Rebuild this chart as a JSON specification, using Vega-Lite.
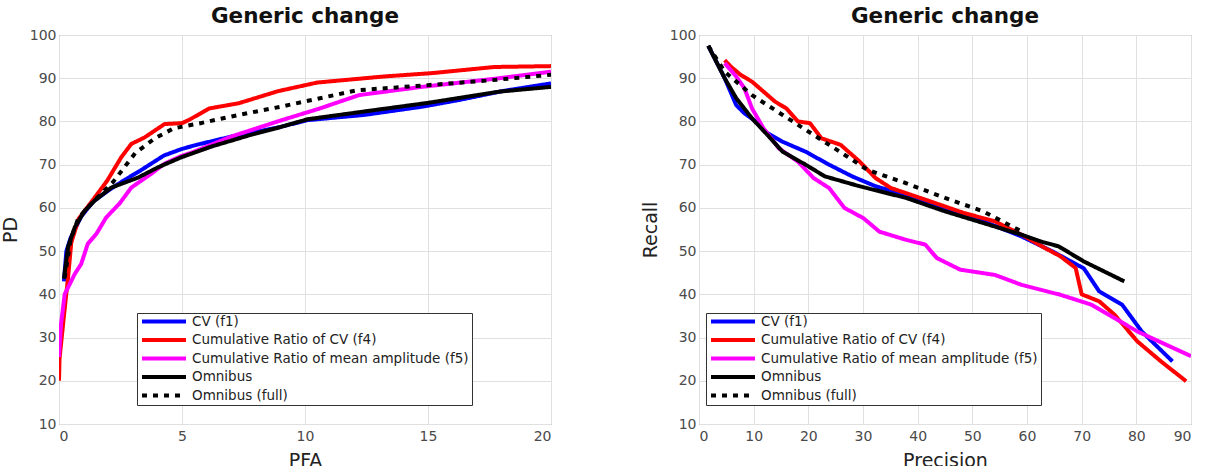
{
  "$schema": "https://vega.github.io/schema/vega-lite/v6.json",
  "background": "white",
  "padding": {"left": 0, "top": 5, "right": 0, "bottom": 5},
  "config": {
    "font": "DejaVu Sans",
    "view": {"stroke": "#7a7a7a", "strokeWidth": 1},
    "axis": {
      "grid": true,
      "gridColor": "#e0e0e0",
      "gridWidth": 1,
      "domain": false,
      "ticks": false,
      "labelFont": "DejaVu Sans",
      "labelFontSize": 14,
      "labelColor": "#4a4a4a",
      "labelPadding": 3,
      "titleFont": "DejaVu Sans",
      "titleFontSize": 19,
      "titleFontWeight": "normal",
      "titleColor": "#222222",
      "titlePadding": 9
    },
    "axisX": {"labelPadding": 5, "titlePadding": 8},
    "title": {"font": "DejaVu Sans", "fontSize": 21.5, "fontWeight": "bold", "color": "#111111", "offset": 1},
    "legend": {
      "orient": "none",
      "title": null,
      "symbolType": "stroke",
      "symbolSize": 1936,
      "symbolStrokeWidth": 4,
      "clipHeight": 11,
      "rowPadding": 4.5,
      "labelFont": "DejaVu Sans",
      "labelFontSize": 13.5,
      "labelColor": "#222222",
      "labelOffset": 4,
      "labelLimit": 400,
      "padding": 3,
      "strokeColor": "#333333",
      "fillColor": "white"
    },
    "concat": {"spacing": 88}
  },
  "resolve": {
    "scale": {"color": "independent", "strokeDash": "independent"},
    "legend": {"color": "independent", "strokeDash": "independent"}
  },
  "datasets": {
    "roc": [
      {"series": "CV (f1)", "pfa": 0.2, "pd": 43},
      {"series": "CV (f1)", "pfa": 0.3, "pd": 50},
      {"series": "CV (f1)", "pfa": 0.47, "pd": 53},
      {"series": "CV (f1)", "pfa": 0.9, "pd": 58},
      {"series": "CV (f1)", "pfa": 1.4, "pd": 61.5},
      {"series": "CV (f1)", "pfa": 2.0, "pd": 64},
      {"series": "CV (f1)", "pfa": 2.62, "pd": 66.3},
      {"series": "CV (f1)", "pfa": 3.3, "pd": 68.6},
      {"series": "CV (f1)", "pfa": 4.26, "pd": 72.1},
      {"series": "CV (f1)", "pfa": 4.97, "pd": 73.6},
      {"series": "CV (f1)", "pfa": 5.6, "pd": 74.6},
      {"series": "CV (f1)", "pfa": 7.0, "pd": 76.5},
      {"series": "CV (f1)", "pfa": 8.9, "pd": 78.6},
      {"series": "CV (f1)", "pfa": 10.1, "pd": 80.3},
      {"series": "CV (f1)", "pfa": 12.4, "pd": 81.5},
      {"series": "CV (f1)", "pfa": 14.75, "pd": 83.4},
      {"series": "CV (f1)", "pfa": 16.3, "pd": 85},
      {"series": "CV (f1)", "pfa": 18, "pd": 87},
      {"series": "CV (f1)", "pfa": 20, "pd": 88.8},

      {"series": "Cumulative Ratio of CV (f4)", "pfa": 0, "pd": 20},
      {"series": "Cumulative Ratio of CV (f4)", "pfa": 0.02, "pd": 25},
      {"series": "Cumulative Ratio of CV (f4)", "pfa": 0.2, "pd": 35},
      {"series": "Cumulative Ratio of CV (f4)", "pfa": 0.37, "pd": 44},
      {"series": "Cumulative Ratio of CV (f4)", "pfa": 0.5, "pd": 52},
      {"series": "Cumulative Ratio of CV (f4)", "pfa": 0.8, "pd": 57.5},
      {"series": "Cumulative Ratio of CV (f4)", "pfa": 1.4, "pd": 62},
      {"series": "Cumulative Ratio of CV (f4)", "pfa": 1.96, "pd": 66.3},
      {"series": "Cumulative Ratio of CV (f4)", "pfa": 2.53, "pd": 71.7},
      {"series": "Cumulative Ratio of CV (f4)", "pfa": 2.94, "pd": 74.8},
      {"series": "Cumulative Ratio of CV (f4)", "pfa": 3.48, "pd": 76.3},
      {"series": "Cumulative Ratio of CV (f4)", "pfa": 4.29, "pd": 79.4},
      {"series": "Cumulative Ratio of CV (f4)", "pfa": 5.0, "pd": 79.6},
      {"series": "Cumulative Ratio of CV (f4)", "pfa": 5.3, "pd": 80.4},
      {"series": "Cumulative Ratio of CV (f4)", "pfa": 6.1, "pd": 83},
      {"series": "Cumulative Ratio of CV (f4)", "pfa": 7.3, "pd": 84.2},
      {"series": "Cumulative Ratio of CV (f4)", "pfa": 8.9, "pd": 87},
      {"series": "Cumulative Ratio of CV (f4)", "pfa": 10.5, "pd": 89},
      {"series": "Cumulative Ratio of CV (f4)", "pfa": 13.2, "pd": 90.4},
      {"series": "Cumulative Ratio of CV (f4)", "pfa": 15.2, "pd": 91.2},
      {"series": "Cumulative Ratio of CV (f4)", "pfa": 17.7, "pd": 92.6},
      {"series": "Cumulative Ratio of CV (f4)", "pfa": 20, "pd": 92.8},

      {"series": "Cumulative Ratio of mean amplitude (f5)", "pfa": 0, "pd": 25.5},
      {"series": "Cumulative Ratio of mean amplitude (f5)", "pfa": 0.08, "pd": 33},
      {"series": "Cumulative Ratio of mean amplitude (f5)", "pfa": 0.23, "pd": 40},
      {"series": "Cumulative Ratio of mean amplitude (f5)", "pfa": 0.64, "pd": 44.7},
      {"series": "Cumulative Ratio of mean amplitude (f5)", "pfa": 0.9, "pd": 47},
      {"series": "Cumulative Ratio of mean amplitude (f5)", "pfa": 1.17, "pd": 51.7},
      {"series": "Cumulative Ratio of mean amplitude (f5)", "pfa": 1.52, "pd": 54},
      {"series": "Cumulative Ratio of mean amplitude (f5)", "pfa": 1.92, "pd": 57.8},
      {"series": "Cumulative Ratio of mean amplitude (f5)", "pfa": 2.46, "pd": 61},
      {"series": "Cumulative Ratio of mean amplitude (f5)", "pfa": 2.94, "pd": 64.7},
      {"series": "Cumulative Ratio of mean amplitude (f5)", "pfa": 3.75, "pd": 67.9},
      {"series": "Cumulative Ratio of mean amplitude (f5)", "pfa": 4.28, "pd": 70.2},
      {"series": "Cumulative Ratio of mean amplitude (f5)", "pfa": 4.97, "pd": 72},
      {"series": "Cumulative Ratio of mean amplitude (f5)", "pfa": 5.4, "pd": 72.8},
      {"series": "Cumulative Ratio of mean amplitude (f5)", "pfa": 7.0, "pd": 76.5},
      {"series": "Cumulative Ratio of mean amplitude (f5)", "pfa": 9.0, "pd": 80.2},
      {"series": "Cumulative Ratio of mean amplitude (f5)", "pfa": 10.6, "pd": 83},
      {"series": "Cumulative Ratio of mean amplitude (f5)", "pfa": 12.2, "pd": 86.1},
      {"series": "Cumulative Ratio of mean amplitude (f5)", "pfa": 14.75, "pd": 88},
      {"series": "Cumulative Ratio of mean amplitude (f5)", "pfa": 17.9, "pd": 90},
      {"series": "Cumulative Ratio of mean amplitude (f5)", "pfa": 20, "pd": 91.5},

      {"series": "Omnibus", "pfa": 0.2, "pd": 43.6},
      {"series": "Omnibus", "pfa": 0.37, "pd": 51},
      {"series": "Omnibus", "pfa": 0.64, "pd": 55.5},
      {"series": "Omnibus", "pfa": 1.04, "pd": 59.3},
      {"series": "Omnibus", "pfa": 1.45, "pd": 61.7},
      {"series": "Omnibus", "pfa": 2.13, "pd": 64.7},
      {"series": "Omnibus", "pfa": 3.21, "pd": 67},
      {"series": "Omnibus", "pfa": 4.03, "pd": 69.4},
      {"series": "Omnibus", "pfa": 4.97, "pd": 71.7},
      {"series": "Omnibus", "pfa": 6.2, "pd": 74.2},
      {"series": "Omnibus", "pfa": 7.8, "pd": 76.9},
      {"series": "Omnibus", "pfa": 9.0, "pd": 78.7},
      {"series": "Omnibus", "pfa": 10.1, "pd": 80.5},
      {"series": "Omnibus", "pfa": 12.4, "pd": 82.3},
      {"series": "Omnibus", "pfa": 15.0, "pd": 84.3},
      {"series": "Omnibus", "pfa": 17.9, "pd": 86.9},
      {"series": "Omnibus", "pfa": 20, "pd": 88},

      {"series": "Omnibus (full)", "pfa": 0.23, "pd": 43.8},
      {"series": "Omnibus (full)", "pfa": 0.47, "pd": 52.5},
      {"series": "Omnibus (full)", "pfa": 0.78, "pd": 57.6},
      {"series": "Omnibus (full)", "pfa": 1.4, "pd": 61.5},
      {"series": "Omnibus (full)", "pfa": 2.2, "pd": 66},
      {"series": "Omnibus (full)", "pfa": 3.1, "pd": 72.7},
      {"series": "Omnibus (full)", "pfa": 3.9, "pd": 76.1},
      {"series": "Omnibus (full)", "pfa": 4.66, "pd": 78.4},
      {"series": "Omnibus (full)", "pfa": 5.75, "pd": 79.6},
      {"series": "Omnibus (full)", "pfa": 7.3, "pd": 81.5},
      {"series": "Omnibus (full)", "pfa": 9.0, "pd": 83.4},
      {"series": "Omnibus (full)", "pfa": 12.1, "pd": 87.2},
      {"series": "Omnibus (full)", "pfa": 15.0, "pd": 88.4},
      {"series": "Omnibus (full)", "pfa": 17.5, "pd": 89.5},
      {"series": "Omnibus (full)", "pfa": 20, "pd": 90.8}
    ],
    "pr": [
      {"series": "CV (f1)", "precision": 1.7, "recall": 97.5},
      {"series": "CV (f1)", "precision": 4.7, "recall": 90},
      {"series": "CV (f1)", "precision": 6.8, "recall": 83.8},
      {"series": "CV (f1)", "precision": 8.3, "recall": 81.9},
      {"series": "CV (f1)", "precision": 10.4, "recall": 80},
      {"series": "CV (f1)", "precision": 12.5, "recall": 77.3},
      {"series": "CV (f1)", "precision": 15.3, "recall": 75.3},
      {"series": "CV (f1)", "precision": 19.5, "recall": 73},
      {"series": "CV (f1)", "precision": 23.8, "recall": 70},
      {"series": "CV (f1)", "precision": 28, "recall": 67.3},
      {"series": "CV (f1)", "precision": 32.3, "recall": 65},
      {"series": "CV (f1)", "precision": 37.9, "recall": 63},
      {"series": "CV (f1)", "precision": 45, "recall": 60},
      {"series": "CV (f1)", "precision": 52, "recall": 56.9},
      {"series": "CV (f1)", "precision": 59, "recall": 53.4},
      {"series": "CV (f1)", "precision": 64.7, "recall": 49.9},
      {"series": "CV (f1)", "precision": 70.4, "recall": 46},
      {"series": "CV (f1)", "precision": 73.2, "recall": 40.7},
      {"series": "CV (f1)", "precision": 77.4, "recall": 37.6},
      {"series": "CV (f1)", "precision": 81, "recall": 31.4},
      {"series": "CV (f1)", "precision": 86.6, "recall": 24.5},

      {"series": "Cumulative Ratio of CV (f4)", "precision": 4.7, "recall": 94.2},
      {"series": "Cumulative Ratio of CV (f4)", "precision": 5.8, "recall": 92.7},
      {"series": "Cumulative Ratio of CV (f4)", "precision": 7.6, "recall": 90.8},
      {"series": "Cumulative Ratio of CV (f4)", "precision": 9.7, "recall": 89.2},
      {"series": "Cumulative Ratio of CV (f4)", "precision": 11.8, "recall": 86.9},
      {"series": "Cumulative Ratio of CV (f4)", "precision": 13.9, "recall": 84.6},
      {"series": "Cumulative Ratio of CV (f4)", "precision": 16, "recall": 83},
      {"series": "Cumulative Ratio of CV (f4)", "precision": 18.1, "recall": 80},
      {"series": "Cumulative Ratio of CV (f4)", "precision": 20.3, "recall": 79.6},
      {"series": "Cumulative Ratio of CV (f4)", "precision": 22.4, "recall": 76.1},
      {"series": "Cumulative Ratio of CV (f4)", "precision": 25.9, "recall": 74.6},
      {"series": "Cumulative Ratio of CV (f4)", "precision": 29.4, "recall": 70.7},
      {"series": "Cumulative Ratio of CV (f4)", "precision": 32.3, "recall": 66.9},
      {"series": "Cumulative Ratio of CV (f4)", "precision": 35.1, "recall": 64.6},
      {"series": "Cumulative Ratio of CV (f4)", "precision": 41.4, "recall": 61.9},
      {"series": "Cumulative Ratio of CV (f4)", "precision": 48.5, "recall": 58.8},
      {"series": "Cumulative Ratio of CV (f4)", "precision": 54.1, "recall": 56.9},
      {"series": "Cumulative Ratio of CV (f4)", "precision": 59, "recall": 53.8},
      {"series": "Cumulative Ratio of CV (f4)", "precision": 63.3, "recall": 50.7},
      {"series": "Cumulative Ratio of CV (f4)", "precision": 66.1, "recall": 48.8},
      {"series": "Cumulative Ratio of CV (f4)", "precision": 68.9, "recall": 46.1},
      {"series": "Cumulative Ratio of CV (f4)", "precision": 70, "recall": 40},
      {"series": "Cumulative Ratio of CV (f4)", "precision": 73.2, "recall": 38.4},
      {"series": "Cumulative Ratio of CV (f4)", "precision": 76, "recall": 35.3},
      {"series": "Cumulative Ratio of CV (f4)", "precision": 80.2, "recall": 29.1},
      {"series": "Cumulative Ratio of CV (f4)", "precision": 84.5, "recall": 24.5},
      {"series": "Cumulative Ratio of CV (f4)", "precision": 89.1, "recall": 19.9},

      {"series": "Cumulative Ratio of mean amplitude (f5)", "precision": 4.7, "recall": 93.5},
      {"series": "Cumulative Ratio of mean amplitude (f5)", "precision": 6.8, "recall": 90.4},
      {"series": "Cumulative Ratio of mean amplitude (f5)", "precision": 8.3, "recall": 87.7},
      {"series": "Cumulative Ratio of mean amplitude (f5)", "precision": 9.7, "recall": 83},
      {"series": "Cumulative Ratio of mean amplitude (f5)", "precision": 11.8, "recall": 78.4},
      {"series": "Cumulative Ratio of mean amplitude (f5)", "precision": 14.6, "recall": 73.8},
      {"series": "Cumulative Ratio of mean amplitude (f5)", "precision": 18.1, "recall": 70.7},
      {"series": "Cumulative Ratio of mean amplitude (f5)", "precision": 20.96, "recall": 66.9},
      {"series": "Cumulative Ratio of mean amplitude (f5)", "precision": 23.8, "recall": 64.6},
      {"series": "Cumulative Ratio of mean amplitude (f5)", "precision": 26.6, "recall": 60},
      {"series": "Cumulative Ratio of mean amplitude (f5)", "precision": 30.1, "recall": 57.6},
      {"series": "Cumulative Ratio of mean amplitude (f5)", "precision": 33, "recall": 54.5},
      {"series": "Cumulative Ratio of mean amplitude (f5)", "precision": 37.9, "recall": 52.6},
      {"series": "Cumulative Ratio of mean amplitude (f5)", "precision": 41.4, "recall": 51.5},
      {"series": "Cumulative Ratio of mean amplitude (f5)", "precision": 43.5, "recall": 48.4},
      {"series": "Cumulative Ratio of mean amplitude (f5)", "precision": 47.8, "recall": 45.7},
      {"series": "Cumulative Ratio of mean amplitude (f5)", "precision": 54.1, "recall": 44.5},
      {"series": "Cumulative Ratio of mean amplitude (f5)", "precision": 59, "recall": 42.2},
      {"series": "Cumulative Ratio of mean amplitude (f5)", "precision": 66.1, "recall": 39.9},
      {"series": "Cumulative Ratio of mean amplitude (f5)", "precision": 71.8, "recall": 37.6},
      {"series": "Cumulative Ratio of mean amplitude (f5)", "precision": 80.2, "recall": 31.4},
      {"series": "Cumulative Ratio of mean amplitude (f5)", "precision": 90, "recall": 25.7},

      {"series": "Omnibus", "precision": 1.7, "recall": 97.5},
      {"series": "Omnibus", "precision": 4.7, "recall": 90},
      {"series": "Omnibus", "precision": 6.8, "recall": 85.4},
      {"series": "Omnibus", "precision": 9.7, "recall": 80.7},
      {"series": "Omnibus", "precision": 12.5, "recall": 76.9},
      {"series": "Omnibus", "precision": 15.3, "recall": 73},
      {"series": "Omnibus", "precision": 19.5, "recall": 70},
      {"series": "Omnibus", "precision": 23, "recall": 67.3},
      {"series": "Omnibus", "precision": 29.4, "recall": 65},
      {"series": "Omnibus", "precision": 37.9, "recall": 62.3},
      {"series": "Omnibus", "precision": 45, "recall": 59.2},
      {"series": "Omnibus", "precision": 52, "recall": 56.5},
      {"series": "Omnibus", "precision": 59, "recall": 53.8},
      {"series": "Omnibus", "precision": 62.6, "recall": 52.2},
      {"series": "Omnibus", "precision": 65.8, "recall": 51.1},
      {"series": "Omnibus", "precision": 70.4, "recall": 47.6},
      {"series": "Omnibus", "precision": 77.8, "recall": 43},

      {"series": "Omnibus (full)", "precision": 1.7, "recall": 97.5},
      {"series": "Omnibus (full)", "precision": 4.7, "recall": 91.5},
      {"series": "Omnibus (full)", "precision": 9.7, "recall": 86.1},
      {"series": "Omnibus (full)", "precision": 15.3, "recall": 81.5},
      {"series": "Omnibus (full)", "precision": 20.96, "recall": 76.9},
      {"series": "Omnibus (full)", "precision": 26.6, "recall": 72.3},
      {"series": "Omnibus (full)", "precision": 30.8, "recall": 68.8},
      {"series": "Omnibus (full)", "precision": 37.9, "recall": 65.7},
      {"series": "Omnibus (full)", "precision": 45, "recall": 62.3},
      {"series": "Omnibus (full)", "precision": 52, "recall": 59.2},
      {"series": "Omnibus (full)", "precision": 59.5, "recall": 54.2}
    ]
  },
  "hconcat": [
    {
      "title": "Generic change",
      "width": 492,
      "height": 389,
      "data": {"name": "roc"},
      "mark": {"type": "line", "strokeWidth": 4, "strokeJoin": "round", "strokeCap": "butt", "clip": true},
      "encoding": {
        "x": {"field": "pfa", "type": "quantitative", "scale": {"domain": [0, 20], "nice": false, "zero": false},
              "axis": {"title": "PFA", "values": [0, 5, 10, 15, 20]}},
        "y": {"field": "pd", "type": "quantitative", "scale": {"domain": [10, 100], "nice": false, "zero": false},
              "axis": {"title": "PD", "values": [10, 20, 30, 40, 50, 60, 70, 80, 90, 100]}},
        "color": {"field": "series", "type": "nominal",
                  "scale": {"domain": ["CV (f1)", "Cumulative Ratio of CV (f4)", "Cumulative Ratio of mean amplitude (f5)", "Omnibus", "Omnibus (full)"],
                            "range": ["#0000ff", "#ff0000", "#ff00ff", "#000000", "#000000"]},
                  "legend": {"legendX": 78, "legendY": 278}},
        "strokeDash": {"field": "series", "type": "nominal",
                       "scale": {"domain": ["CV (f1)", "Cumulative Ratio of CV (f4)", "Cumulative Ratio of mean amplitude (f5)", "Omnibus", "Omnibus (full)"],
                                 "range": [[1, 0], [1, 0], [1, 0], [1, 0], [5, 6]]},
                       "legend": {"legendX": 78, "legendY": 278}}
      }
    },
    {
      "title": "Generic change",
      "width": 492,
      "height": 389,
      "data": {"name": "pr"},
      "mark": {"type": "line", "strokeWidth": 4, "strokeJoin": "round", "strokeCap": "butt", "clip": true},
      "encoding": {
        "x": {"field": "precision", "type": "quantitative", "scale": {"domain": [0, 90], "nice": false, "zero": false},
              "axis": {"title": "Precision", "values": [0, 10, 20, 30, 40, 50, 60, 70, 80, 90]}},
        "y": {"field": "recall", "type": "quantitative", "scale": {"domain": [10, 100], "nice": false, "zero": false},
              "axis": {"title": "Recall", "values": [10, 20, 30, 40, 50, 60, 70, 80, 90, 100]}},
        "color": {"field": "series", "type": "nominal",
                  "scale": {"domain": ["CV (f1)", "Cumulative Ratio of CV (f4)", "Cumulative Ratio of mean amplitude (f5)", "Omnibus", "Omnibus (full)"],
                            "range": ["#0000ff", "#ff0000", "#ff00ff", "#000000", "#000000"]},
                  "legend": {"legendX": 7, "legendY": 278}},
        "strokeDash": {"field": "series", "type": "nominal",
                       "scale": {"domain": ["CV (f1)", "Cumulative Ratio of CV (f4)", "Cumulative Ratio of mean amplitude (f5)", "Omnibus", "Omnibus (full)"],
                                 "range": [[1, 0], [1, 0], [1, 0], [1, 0], [5, 6]]},
                       "legend": {"legendX": 7, "legendY": 278}}
      }
    }
  ]
}
